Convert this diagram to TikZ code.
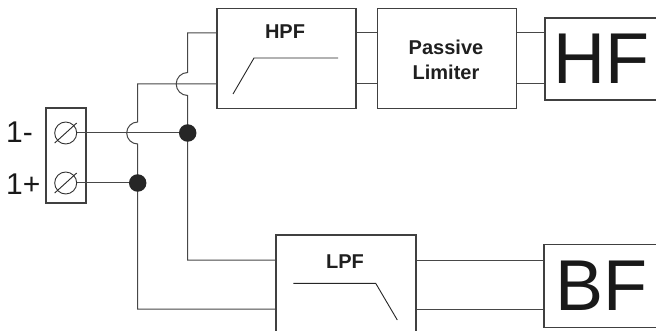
\documentclass[tikz,border=0pt]{standalone}
\usepackage{fontspec}
\setmainfont{Liberation Sans}
\usetikzlibrary{calc}
\begin{document}
\begin{tikzpicture}[x=1pt,y=-1pt,
  wire/.style={draw=black!72, line width=1pt},
  blk/.style={draw=black!75, line width=1.1pt, fill=white, inner sep=0pt, rectangle},
  curve/.style={draw=black!85, line width=0.9pt},
  lbl/.style={font=\bfseries\fontsize{20}{25}\selectfont, text=black!88, inner sep=0pt, align=center},
  big/.style={font=\fontsize{72}{72}\selectfont, text=black!90, inner sep=0pt, anchor=west},
  pin/.style={font=\fontsize{30}{30}\selectfont, text=black!90, inner sep=0pt, anchor=west},
  screw/.style={circle, draw=black!80, line width=0.9pt, minimum size=22pt, inner sep=0pt, fill=white},
  jdot/.style={circle, fill=black!85, minimum size=17.5pt, inner sep=0pt}]
\useasboundingbox (0,0) rectangle (656,331);

% wire corner and jump coordinates
\coordinate (ta) at (187.7,33);
\coordinate (tb) at (137.7,84);
\coordinate (ba) at (187.7,260);
\coordinate (bb) at (137.7,309);
\coordinate (ja) at (187.7,72.5);
\coordinate (jb) at (137.7,122);

% terminal and block nodes
\node[blk, minimum width=40pt, minimum height=95pt] (term) at (66,155.5) {};
\node[blk, minimum width=139pt, minimum height=100pt] (hpf) at (286.5,58.3) {};
\node[blk, minimum width=139.5pt, minimum height=100pt] (lim) at (447,58.3) {};
\node[blk, minimum width=113pt, minimum height=82pt] (hf) at (601.5,59) {};
\node[blk, minimum width=140pt, minimum height=110pt] (lpf) at (346,290) {};
\node[blk, minimum width=114pt, minimum height=83pt] (bf) at (601,286) {};

% wires
\draw[wire] (ta -| hpf.west) -- (ta) -- (ja) arc[start angle=90, end angle=270, radius=11.5pt] -- (ba) -- (ba -| lpf.west);
\draw[wire] (tb -| hpf.west) -- (tb) -- (jb) arc[start angle=90, end angle=270, radius=11pt] -- (bb) -- (bb -| lpf.west);
\draw[wire] (hpf.east |- ta) -- (lim.west |- ta);
\draw[wire] (hpf.east |- tb) -- (lim.west |- tb);
\draw[wire] (lim.east |- ta) -- (hf.west |- ta);
\draw[wire] (lim.east |- tb) -- (hf.west |- tb);
\draw[wire] (lpf.east |- ba) -- (bf.west |- ba);
\draw[wire] (lpf.east |- bb) -- (bf.west |- bb);

% screws
\node[screw] (c1) at (65.7,133) {};
\node[screw] (c2) at (65.7,183) {};
\draw[curve] ($(c1)+(-11,10)$) -- ($(c1)+(11,-10)$);
\draw[curve] ($(c2)+(-11,10)$) -- ($(c2)+(11,-10)$);

% junction dots
\coordinate (d1) at (187.7,133);
\coordinate (d2) at (137.7,183);
\draw[wire] (c1.east) -- (d1);
\draw[wire] (c2.east) -- (d2);
\node[jdot] (j1) at (d1) {};
\node[jdot] (j2) at (d2) {};

% filter curves
\draw[curve] (233,94) -- (254,58) -- (338,58);
\draw[curve] (293.3,283.3) -- (375.7,283.3) -- (397.3,320);

% labels
\node[lbl] (thpf) at (285,32) {HPF};
\node[lbl] (tlim) at (446,60) {Passive\\Limiter};
\node[lbl] (tlpf) at (345,261.7) {LPF};
\node[big] (thf) at (553,59) {HF};
\node[big] (tbf) at (555.5,286) {BF};
\node[pin] (p1) at (6,132.5) {1-};
\node[pin] (p2) at (6,184) {1+};
\end{tikzpicture}
\end{document}
